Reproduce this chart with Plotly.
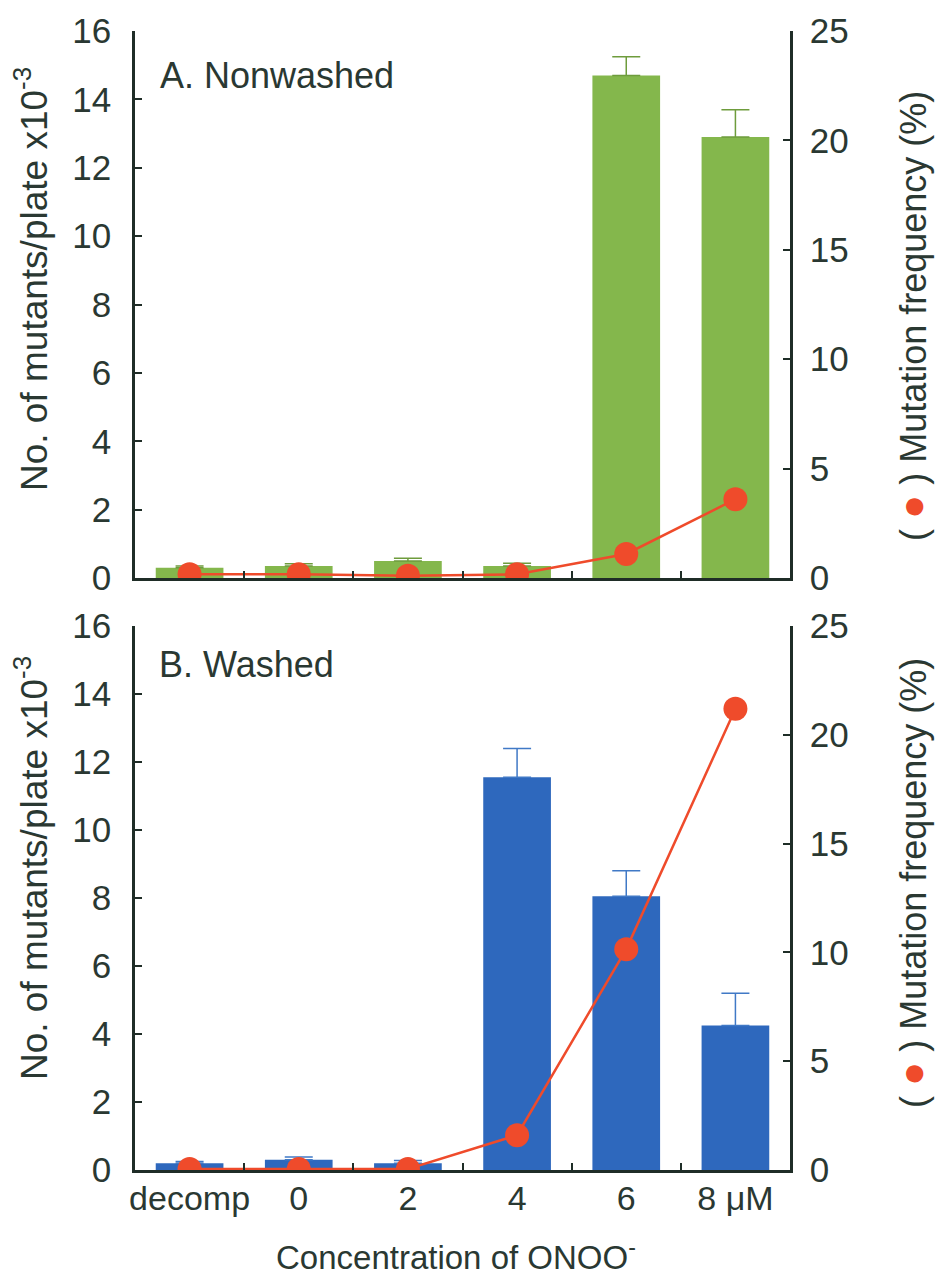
import plotly.graph_objects as go

categories = ["decomp", "0", "2", "4", "6", "8 μM"]

# Panel A (Nonwashed)
mutants_a = [0.3, 0.35, 0.5, 0.35, 14.7, 12.9]
mutants_a_err = [0.05, 0.07, 0.08, 0.08, 0.55, 0.8]
freq_a = [0.17, 0.17, 0.1, 0.17, 1.1, 3.6]

# Panel B (Washed)
mutants_b = [0.2, 0.3, 0.2, 11.55, 8.05, 4.25]
mutants_b_err = [0.05, 0.08, 0.08, 0.85, 0.75, 0.95]
freq_b = [0.05, 0.05, 0.05, 1.6, 10.15, 21.2]

FONT = "Liberation Sans, Arial, sans-serif"
TXT = "#2a3832"
AX = "#1f2d27"
GREEN = "#84b74c"
GREEN_E = "#6e9c3c"
BLUE = "#2e68bd"
BLUE_E = "#4079c6"
RED = "#ef4b2b"

fig = go.Figure()

fig.add_trace(go.Bar(x=categories, y=mutants_a, xaxis="x", yaxis="y",
                     marker=dict(color=GREEN, line=dict(width=0)),
                     error_y=dict(type="data", symmetric=False, array=mutants_a_err,
                                  arrayminus=[0] * len(mutants_a), color=GREEN_E,
                                  thickness=1.5, width=14),
                     showlegend=False))
fig.add_trace(go.Scatter(x=categories, y=freq_a, xaxis="x", yaxis="y2",
                         mode="lines+markers",
                         line=dict(color=RED, width=2.5),
                         marker=dict(color=RED, size=24),
                         showlegend=False))

fig.add_trace(go.Bar(x=categories, y=mutants_b, xaxis="x2", yaxis="y3",
                     marker=dict(color=BLUE, line=dict(width=0)),
                     error_y=dict(type="data", symmetric=False, array=mutants_b_err,
                                  arrayminus=[0] * len(mutants_b), color=BLUE_E,
                                  thickness=1.5, width=14),
                     showlegend=False))
fig.add_trace(go.Scatter(x=categories, y=freq_b, xaxis="x2", yaxis="y4",
                         mode="lines+markers",
                         line=dict(color=RED, width=2.5),
                         marker=dict(color=RED, size=24),
                         showlegend=False))

top_dom = [(1170 - 578) / 1139, 1.0]
bot_dom = [0.0, (1170 - 626) / 1139]

common_x = dict(type="category", showline=True, linecolor=AX, linewidth=2.5,
                ticks="inside", tickson="boundaries", ticklen=7, tickcolor=AX,
                tickwidth=2, showgrid=False, zeroline=False, tickangle=0,
                tickfont=dict(family=FONT, size=34, color=TXT))
left_y = dict(range=[0, 16], dtick=2, showline=True, linecolor=AX, linewidth=2.5,
              ticks="inside", ticklen=7, tickcolor=AX, tickwidth=2,
              showgrid=False, zeroline=False, ticklabelstandoff=14,
              tickfont=dict(family=FONT, size=35, color=TXT))
right_y = dict(range=[0, 25], dtick=5, showline=True, linecolor=AX, linewidth=2.5,
               ticks="inside", ticklen=7, tickcolor=AX, tickwidth=2,
               showgrid=False, zeroline=False, side="right", ticklabelstandoff=10,
               tickfont=dict(family=FONT, size=35, color=TXT))

fig.update_layout(
    width=942, height=1284,
    margin=dict(l=135, r=152, t=31, b=114),
    paper_bgcolor="white", plot_bgcolor="white",
    bargap=0.38,
    xaxis=dict(common_x, domain=[0, 1], anchor="y", showticklabels=False),
    yaxis=dict(left_y, domain=top_dom, anchor="x"),
    yaxis2=dict(right_y, overlaying="y", anchor="x"),
    xaxis2=dict(common_x, domain=[0, 1], anchor="y3", ticklabelstandoff=-4),
    yaxis3=dict(left_y, domain=bot_dom, anchor="x2"),
    yaxis4=dict(right_y, overlaying="y3", anchor="x2"),
    font=dict(family=FONT, color=TXT),
)

ytitle = "No. of mutants/plate x10<sup>-3</sup>"
rtitle = ("( <span style='color:%s;font-size:40px'>●</span> ) Mutation frequency (%%)"
          % RED)

annotations = [
    dict(text="A. Nonwashed", x=(158 - 135) / 655, y=(1170 - 75) / 1139,
         xanchor="left", yanchor="middle", font=dict(size=36)),
    dict(text="B. Washed", x=(157 - 135) / 655, y=(1170 - 665) / 1139,
         xanchor="left", yanchor="middle", font=dict(size=36)),
    dict(text=ytitle, x=(31 - 135) / 655, y=(1170 - 279) / 1139, textangle=-90,
         xanchor="center", yanchor="middle", font=dict(size=37)),
    dict(text=ytitle, x=(31 - 135) / 655, y=(1170 - 868) / 1139, textangle=-90,
         xanchor="center", yanchor="middle", font=dict(size=37)),
    dict(text=rtitle, x=(912 - 135) / 655, y=(1170 - 316) / 1139, textangle=-90,
         xanchor="center", yanchor="middle", font=dict(size=36)),
    dict(text=rtitle, x=(912 - 135) / 655, y=(1170 - 883) / 1139, textangle=-90,
         xanchor="center", yanchor="middle", font=dict(size=36)),
    dict(text="Concentration of ONOO<sup>-</sup>", x=(456 - 135) / 655,
         y=(1170 - 1255) / 1139, xanchor="center", yanchor="middle",
         font=dict(size=33)),
]
for a in annotations:
    a.update(xref="paper", yref="paper", showarrow=False)
    a["font"].update(family=FONT, color=TXT)
fig.update_layout(annotations=annotations)

fig.write_html("out.html")
